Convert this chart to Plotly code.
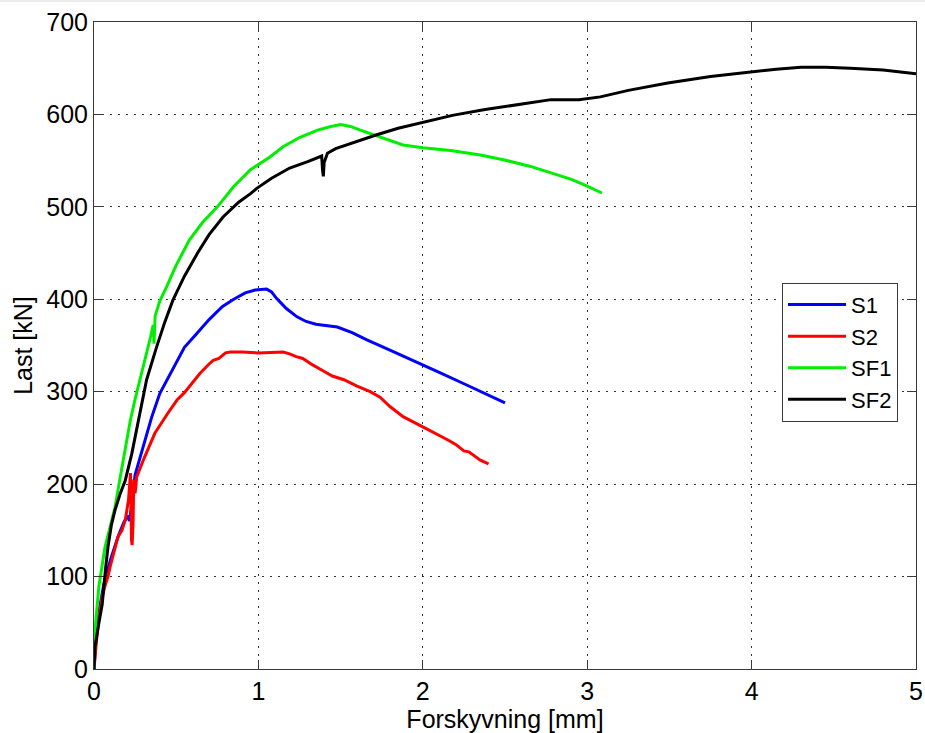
import plotly.graph_objects as go

# Load-displacement curves (displacement in mm, load in kN)
s1_x = [0, 0.01, 0.03, 0.06, 0.10, 0.146, 0.18, 0.205, 0.215, 0.225, 0.25, 0.30, 0.35, 0.40,
        0.47, 0.55, 0.62, 0.70, 0.78, 0.85, 0.92, 0.98, 1.05, 1.08, 1.11, 1.17, 1.235, 1.29,
        1.35, 1.48, 1.57, 1.66, 1.80, 1.98, 2.10, 2.27, 2.40, 2.50]
s1_y = [0, 28, 62, 92, 118, 143, 158, 166, 160, 172, 210, 242, 272, 298,
        322, 348, 362, 378, 392, 400, 407, 410, 411, 408, 401, 390, 381, 376,
        373, 370, 364, 356, 345, 331, 321, 307, 296, 288]

s2_x = [0, 0.006, 0.02, 0.036, 0.05, 0.067, 0.085, 0.10, 0.12, 0.146, 0.17, 0.19, 0.21,
        0.222, 0.228, 0.232, 0.238, 0.242, 0.25, 0.26, 0.30, 0.37, 0.45, 0.505, 0.55,
        0.61, 0.645, 0.70, 0.725, 0.76, 0.80, 0.83, 0.90, 1.00, 1.10, 1.15, 1.19, 1.23,
        1.27, 1.33, 1.39, 1.45, 1.52, 1.60, 1.68, 1.74, 1.80, 1.88, 2.00, 2.10, 2.15,
        2.20, 2.25, 2.28, 2.31, 2.35, 2.40]
s2_y = [0, 12, 40, 62, 78, 90, 100, 112, 125, 143, 150, 161, 183,
        212, 140, 134, 160, 205, 190, 208, 226, 255, 277, 291, 299,
        313, 320, 330, 334, 336, 342, 343, 343, 342, 343, 343, 341, 338,
        336, 329, 323, 317, 313, 306, 300, 294, 284, 273, 262, 253, 248,
        243, 236, 235, 231, 226, 222]

sf1_x = [0, 0.003, 0.01, 0.03, 0.067, 0.10, 0.128, 0.16, 0.19, 0.22, 0.25, 0.28, 0.32,
         0.345, 0.36, 0.365, 0.372, 0.40, 0.44, 0.50, 0.58, 0.66, 0.75, 0.85, 0.95, 1.07,
         1.15, 1.25, 1.36, 1.44, 1.50, 1.56, 1.62, 1.70, 1.76, 1.88, 2.00, 2.17, 2.35,
         2.49, 2.65, 2.78, 2.90, 2.98, 3.09]
sf1_y = [0, 22, 50, 90, 132, 155, 175, 208, 240, 268, 292, 313, 340,
         360, 372, 352, 382, 398, 413, 437, 464, 483, 500, 522, 540, 554,
         565, 575, 583, 587, 589, 587, 583, 578, 574, 567, 564, 561, 556,
         551, 544, 537, 530, 524, 515]

sf2_x = [0, 0.006, 0.03, 0.05, 0.07, 0.085, 0.105, 0.128, 0.16, 0.19, 0.23, 0.28, 0.32,
         0.38, 0.43, 0.48, 0.55, 0.63, 0.70, 0.785, 0.88, 0.95, 0.99, 1.08, 1.19, 1.30,
         1.385, 1.39, 1.395, 1.40, 1.42, 1.47, 1.55, 1.65, 1.72, 1.85, 2.00, 2.18, 2.37,
         2.55, 2.70, 2.78, 2.95, 3.08, 3.25, 3.49, 3.75, 3.99, 4.15, 4.30, 4.45, 4.60,
         4.80, 5.00]
sf2_y = [0, 24, 50, 70, 108, 132, 155, 172, 190, 204, 233, 277, 313,
         348, 375, 399, 425, 450, 470, 489, 505, 514, 520, 531, 542, 549,
         555, 540, 533, 548, 558, 563, 568, 574, 578, 585, 591, 599, 605,
         610, 614, 616, 616, 619, 626, 634, 641, 646, 649, 651, 651, 650,
         648, 644]

series = [
    ("S1", s1_x, s1_y, "#0000ff"),
    ("S2", s2_x, s2_y, "#ff0000"),
    ("SF1", sf1_x, sf1_y, "#00ee00"),
    ("SF2", sf2_x, sf2_y, "#000000"),
]

x_ticks = [0, 1, 2, 3, 4, 5]
y_ticks = [0, 100, 200, 300, 400, 500, 600, 700]

FONT = "Liberation Sans, Arial, sans-serif"
AXIS_COLOR = "#3a3a3a"

fig = go.Figure()
for name, xs, ys, color in series:
    fig.add_trace(go.Scatter(x=xs, y=ys, mode="lines", name=name,
                             line=dict(color=color, width=3)))

axis_common = dict(
    showline=True, linecolor=AXIS_COLOR, linewidth=1, mirror="ticks",
    ticks="inside", ticklen=9, tickcolor=AXIS_COLOR, tickwidth=1,
    showgrid=True, gridcolor="#333333", gridwidth=1, griddash="2px,6px",
    zeroline=False, automargin=False,
    tickfont=dict(family=FONT, size=25, color="#000000"),
)

fig.update_xaxes(range=[0, 5], tickvals=x_ticks, ticktext=[str(v) for v in x_ticks],
                 title=dict(text="Forskyvning [mm]", font=dict(family=FONT, size=25, color="#000000"),
                            standoff=8),
                 **axis_common)
fig.update_yaxes(range=[0, 700], tickvals=y_ticks, ticktext=[str(v) for v in y_ticks],
                 title=dict(text="Last [kN]", font=dict(family=FONT, size=25, color="#000000"),
                            standoff=6),
                 **axis_common)

fig.update_layout(
    width=925, height=733,
    margin=dict(l=94, r=9, t=22, b=64),
    plot_bgcolor="#ffffff", paper_bgcolor="#ffffff",
    font=dict(family=FONT, color="#000000"),
    legend=dict(x=0.837, y=0.597, xanchor="left", yanchor="top",
                bgcolor="#ffffff", bordercolor=AXIS_COLOR, borderwidth=1,
                font=dict(family=FONT, size=22, color="#000000"),
                itemwidth=58, entrywidth=52, entrywidthmode="pixels", tracegroupgap=0),
    showlegend=True,
    shapes=[dict(type="rect", xref="paper", yref="paper",
                 x0=-0.2, x1=1.2, y0=1.031, y1=1.04,
                 fillcolor="#ebebeb", line=dict(width=0), layer="below")],
)

fig.write_html("out.html")
